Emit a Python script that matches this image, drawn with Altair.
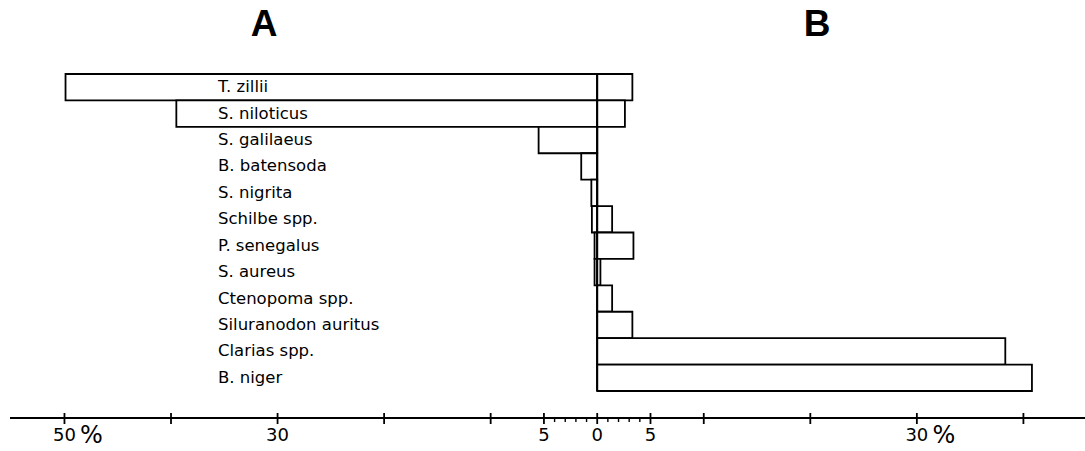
import altair as alt
import pandas as pd

# Species, top to bottom
species = [
    "T. zillii", "S. niloticus", "S. galilaeus", "B. batensoda", "S. nigrita",
    "Schilbe spp.", "P. senegalus", "S. aureus", "Ctenopoma spp.",
    "Siluranodon auritus", "Clarias spp.", "B. niger",
]
# Percent shares, panel A (drawn to the left) and panel B (drawn to the right)
pct_a = [49.9, 39.5, 5.5, 1.5, 0.55, 0.5, 0.25, 0.25, 0.0, 0.0, 0.0, 0.0]
pct_b = [3.3, 2.6, 0.0, 0.0, 0.0, 1.4, 3.4, 0.3, 1.4, 3.3, 38.3, 40.8]

# Shared percent axis: left half is read as a positive percentage
major_ticks = [-50, -40, -30, -20, -10, -5, 0, 5, 10, 20, 30, 40]
minor_ticks = [-4, -3, -2, -1, 1, 2, 3, 4]
tick_label_pos = [-50, -30, -5, 0, 5, 30]
tick_label_txt = ["50", "30", "5", "0", "5", "30"]
percent_pos = [-50, 30]

bars = pd.DataFrame(
    [{"species": s, "x": -a, "x2": 0.0} for s, a in zip(species, pct_a)]
    + [{"species": s, "x": 0.0, "x2": b} for s, b in zip(species, pct_b)]
)
names = pd.DataFrame({"species": species})
majors = pd.DataFrame({"v": major_ticks})
minors = pd.DataFrame({"v": minor_ticks})
tlabels = pd.DataFrame({"v": tick_label_pos, "t": tick_label_txt})
pcts = pd.DataFrame({"v": percent_pos, "t": ["%"] * len(percent_pos)})

xscale = alt.Scale(domain=[-56.05, 45.78], nice=False, zero=False)
yscale = alt.Scale(domain=species, range=[74, 391], paddingInner=0, paddingOuter=0)
X = lambda f: alt.X(f, type="quantitative", scale=xscale, axis=None)

bar_layer = alt.Chart(bars).mark_bar(
    fill="white", stroke="black", strokeWidth=1.8, cornerRadius=0
).encode(
    x=X("x"), x2="x2",
    y=alt.Y("species:N", scale=yscale, axis=None, sort=species),
)

center_line = alt.Chart(names).mark_rule(color="black", strokeWidth=1.8).encode(
    x=X("zero"), y=alt.value(74), y2=alt.value(391)
).transform_calculate(zero="0").transform_filter("datum.species == 'B. niger'")

name_layer = alt.Chart(names).mark_text(
    align="left", baseline="middle", font="DejaVu Sans", fontSize=16.5, color="black"
).encode(
    x=alt.value(218),
    y=alt.Y("species:N", scale=yscale, axis=None, sort=species),
    text="species:N",
)

axis_line = alt.Chart(names).mark_rule(color="black", strokeWidth=1.8).encode(
    x=alt.value(10), x2=alt.value(1085), y=alt.value(418)
).transform_filter("datum.species == 'B. niger'")

major_layer = alt.Chart(majors).mark_rule(color="black", strokeWidth=1.8).encode(
    x=X("v"), y=alt.value(413), y2=alt.value(424)
)
minor_layer = alt.Chart(minors).mark_rule(color="black", strokeWidth=1.4).encode(
    x=X("v"), y=alt.value(418), y2=alt.value(422)
)
tick_text = alt.Chart(tlabels).mark_text(
    align="center", baseline="middle", font="DejaVu Sans", fontSize=18, color="black"
).encode(x=X("v"), y=alt.value(436), text="t:N")
pct_text = alt.Chart(pcts).mark_text(
    align="center", baseline="middle", font="DejaVu Sans", fontSize=24,
    color="black", dx=27,
).encode(x=X("v"), y=alt.value(436), text="t:N")

titles = pd.DataFrame({"t": ["A", "B"], "px": [264, 817]})
title_layer = alt.Chart(titles).mark_text(
    align="center", baseline="alphabetic", font="Liberation Sans",
    fontSize=37, fontWeight="bold", color="black",
).encode(x=alt.X("px:Q", scale=None, axis=None), y=alt.value(36), text="t:N")

chart = alt.layer(
    bar_layer, center_line, name_layer, axis_line, major_layer, minor_layer,
    tick_text, pct_text, title_layer,
).properties(
    width=1085, height=451, autosize="none", padding=0,
    background="white",
).configure_view(stroke=None)

chart.save("out.html", embed_options={"renderer": "svg", "actions": False})
